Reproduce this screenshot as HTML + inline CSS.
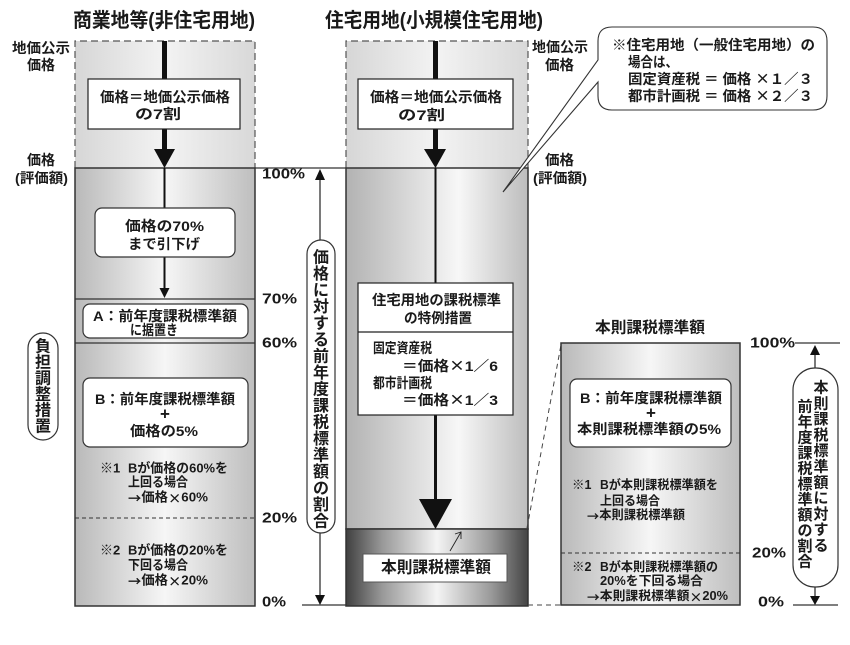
<!DOCTYPE html>
<html><head><meta charset="utf-8"><style>
html,body{margin:0;padding:0;background:#fff;}
svg{display:block;}
text{font-family:"Liberation Sans","Noto Sans CJK JP",sans-serif;font-weight:bold;fill:#1a1a1a;dominant-baseline:central;}
.p{font-family:"Liberation Sans",sans-serif;}
.j{font-family:"Noto Sans CJK JP",sans-serif;}
</style></head><body>
<svg width="850" height="645" viewBox="0 0 850 645" xmlns="http://www.w3.org/2000/svg">
<defs>
<linearGradient id="gTop" x1="0" x2="1" y1="0" y2="0"><stop offset="0" stop-color="#d6d6d6"/><stop offset=".5" stop-color="#f3f3f3"/><stop offset="1" stop-color="#d8d8d8"/></linearGradient>
<linearGradient id="gL" x1="0" x2="1" y1="0" y2="0"><stop offset="0" stop-color="#b9b9b9"/><stop offset=".5" stop-color="#f6f6f6"/><stop offset="1" stop-color="#bebebe"/></linearGradient>
<linearGradient id="gM" x1="0" x2="1" y1="0" y2="0"><stop offset="0" stop-color="#b2b2b2"/><stop offset=".62" stop-color="#f7f7f7"/><stop offset="1" stop-color="#bdbdbd"/></linearGradient>
<linearGradient id="gD" x1="0" x2="1" y1="0" y2="0"><stop offset="0" stop-color="#404040"/><stop offset=".2" stop-color="#999"/><stop offset=".5" stop-color="#f4f4f4"/><stop offset=".8" stop-color="#999"/><stop offset="1" stop-color="#444"/></linearGradient>
</defs>

<!-- Titles -->
<text x="73" y="21" font-size="20" textLength="182" lengthAdjust="spacingAndGlyphs">商業地等(非住宅用地)</text>
<text x="325" y="21" font-size="20" textLength="218" lengthAdjust="spacingAndGlyphs">住宅用地(小規模住宅用地)</text>

<!-- Left labels -->
<text x="12" y="48" font-size="14" textLength="58" lengthAdjust="spacingAndGlyphs">地価公示</text>
<text x="27" y="65" font-size="14" textLength="28" lengthAdjust="spacingAndGlyphs">価格</text>
<text x="27" y="160" font-size="14" textLength="28" lengthAdjust="spacingAndGlyphs">価格</text>
<text x="15" y="178" font-size="14" textLength="53" lengthAdjust="spacingAndGlyphs">(評価額)</text>

<!-- LEFT COLUMN -->
<rect x="75" y="41" width="180" height="127" fill="url(#gTop)"/>
<path d="M75,168 V41 H255 V168" fill="none" stroke="#555" stroke-width="1.2" stroke-dasharray="7 4"/>
<rect x="75" y="168" width="180" height="438" fill="url(#gL)" stroke="#333" stroke-width="1.5"/>
<line x1="75" y1="299" x2="255" y2="299" stroke="#333" stroke-width="1.2"/>
<line x1="75" y1="343" x2="255" y2="343" stroke="#333" stroke-width="1.2"/>
<line x1="75" y1="518" x2="255" y2="518" stroke="#333" stroke-width="1" stroke-dasharray="4 3"/>
<rect x="162" y="41" width="5" height="40" fill="#111"/>
<rect x="162" y="128" width="5" height="23" fill="#111"/>
<polygon points="154,149 175,149 164.5,168" fill="#111"/>
<line x1="164.5" y1="168" x2="164.5" y2="208" stroke="#111" stroke-width="2"/>
<line x1="164.5" y1="257" x2="164.5" y2="290" stroke="#111" stroke-width="2"/>
<polygon points="159.5,288 169.5,288 164.5,298" fill="#111"/>
<rect x="88" y="79" width="152" height="50" fill="#fff" stroke="#222" stroke-width="1.2"/>
<text x="100" y="97" font-size="14" textLength="130" lengthAdjust="spacingAndGlyphs">価格＝地価公示価格</text>
<text x="135" y="114" font-size="14" textLength="46" lengthAdjust="spacingAndGlyphs">の7割</text>
<rect x="95" y="208" width="140" height="49" rx="7" fill="#fff" stroke="#333" stroke-width="1.2"/>
<text x="125" y="226" font-size="14" textLength="79" lengthAdjust="spacingAndGlyphs">価格の70%</text>
<text x="128" y="244" font-size="14" textLength="72" lengthAdjust="spacingAndGlyphs">まで引下げ</text>
<rect x="83" y="304" width="165" height="34" rx="7" fill="#fff" stroke="#333" stroke-width="1.2"/>
<text x="93" y="316" font-size="14" textLength="144" lengthAdjust="spacingAndGlyphs">A：前年度課税標準額</text>
<text x="130" y="330" font-size="14" textLength="48" lengthAdjust="spacingAndGlyphs">に据置き</text>
<rect x="83" y="378" width="165" height="69" rx="7" fill="#fff" stroke="#333" stroke-width="1.2"/>
<text x="95" y="399" font-size="14" textLength="140" lengthAdjust="spacingAndGlyphs">B：前年度課税標準額</text>
<text x="165" y="414" font-size="17" text-anchor="middle">+</text>
<text x="130" y="431" font-size="14" textLength="68" lengthAdjust="spacingAndGlyphs">価格の5%</text>
<text x="100" y="468" font-size="13">※1</text>
<text x="128" y="468" font-size="13" textLength="100" lengthAdjust="spacingAndGlyphs">Bが価格の60%を</text>
<text x="128" y="482" font-size="13" textLength="60" lengthAdjust="spacingAndGlyphs">上回る場合</text>
<text x="128" y="497" font-size="13" textLength="80" lengthAdjust="spacingAndGlyphs"><tspan class="j">→</tspan>価格<tspan class="j">×</tspan>60%</text>
<text x="100" y="550" font-size="13">※2</text>
<text x="128" y="550" font-size="13" textLength="100" lengthAdjust="spacingAndGlyphs">Bが価格の20%を</text>
<text x="128" y="565" font-size="13" textLength="60" lengthAdjust="spacingAndGlyphs">下回る場合</text>
<text x="128" y="580" font-size="13" textLength="80" lengthAdjust="spacingAndGlyphs"><tspan class="j">→</tspan>価格<tspan class="j">×</tspan>20%</text>

<rect x="28" y="333" width="30" height="107" rx="15" fill="#fff" stroke="#333" stroke-width="1.2"/>
<g font-size="16" text-anchor="middle">
<text x="43" y="347">負</text><text x="43" y="363">担</text><text x="43" y="379">調</text><text x="43" y="395">整</text><text x="43" y="411">措</text><text x="43" y="427">置</text>
</g>

<line x1="255" y1="168" x2="346" y2="168" stroke="#333" stroke-width="1.2"/>
<line x1="302" y1="605" x2="346" y2="605" stroke="#333" stroke-width="1.2"/>
<text class="p" x="262" y="174" font-size="15" textLength="43" lengthAdjust="spacingAndGlyphs">100%</text>
<text class="p" x="262" y="299" font-size="15" textLength="35" lengthAdjust="spacingAndGlyphs">70%</text>
<text class="p" x="262" y="343" font-size="15" textLength="35" lengthAdjust="spacingAndGlyphs">60%</text>
<text class="p" x="262" y="518" font-size="15" textLength="35" lengthAdjust="spacingAndGlyphs">20%</text>
<text class="p" x="262" y="602" font-size="15" textLength="24" lengthAdjust="spacingAndGlyphs">0%</text>

<line x1="320" y1="172" x2="320" y2="600" stroke="#222" stroke-width="1.2"/>
<polygon points="315,180 325,180 320,169" fill="#111"/>
<polygon points="315,595 325,595 320,605" fill="#111"/>
<rect x="307" y="240" width="28" height="293" rx="14" fill="#fff" stroke="#333" stroke-width="1.2"/>
<g font-size="16" text-anchor="middle">
<text x="321" y="258">価</text><text x="321" y="274.5">格</text><text x="321" y="291">に</text><text x="321" y="307.5">対</text><text x="321" y="324">す</text><text x="321" y="340.5">る</text><text x="321" y="357">前</text><text x="321" y="373.5">年</text><text x="321" y="390">度</text><text x="321" y="406.5">課</text><text x="321" y="423">税</text><text x="321" y="439.5">標</text><text x="321" y="456">準</text><text x="321" y="472.5">額</text><text x="321" y="489">の</text><text x="321" y="505.5">割</text><text x="321" y="522">合</text>
</g>

<!-- MIDDLE COLUMN -->
<rect x="346" y="41" width="182" height="127" fill="url(#gTop)"/>
<path d="M346,168 V41 H528 V168" fill="none" stroke="#555" stroke-width="1.2" stroke-dasharray="7 4"/>
<rect x="346" y="168" width="182" height="361" fill="url(#gM)" stroke="#333" stroke-width="1.5"/>
<rect x="346" y="529" width="182" height="77" fill="url(#gD)" stroke="#333" stroke-width="1.5"/>
<rect x="433" y="41" width="5" height="40" fill="#111"/>
<rect x="433" y="128" width="5" height="23" fill="#111"/>
<polygon points="424,149 446,149 435.5,168" fill="#111"/>
<line x1="435.5" y1="168" x2="435.5" y2="283" stroke="#111" stroke-width="2"/>
<line x1="435.5" y1="415" x2="435.5" y2="500" stroke="#111" stroke-width="3"/>
<polygon points="419,499 452,499 435.5,529" fill="#111"/>
<rect x="358" y="79" width="155" height="50" fill="#fff" stroke="#222" stroke-width="1.2"/>
<text x="370" y="97" font-size="14" textLength="132" lengthAdjust="spacingAndGlyphs">価格＝地価公示価格</text>
<text x="398" y="115" font-size="14" textLength="47" lengthAdjust="spacingAndGlyphs">の7割</text>
<rect x="358" y="283" width="155" height="132" fill="#fff" stroke="#222" stroke-width="1.2"/>
<line x1="358" y1="332" x2="513" y2="332" stroke="#222" stroke-width="1.2"/>
<text x="372" y="300" font-size="14" textLength="129" lengthAdjust="spacingAndGlyphs">住宅用地の課税標準</text>
<text x="404" y="318" font-size="14" textLength="68" lengthAdjust="spacingAndGlyphs">の特例措置</text>
<text x="373" y="348" font-size="14" textLength="59" lengthAdjust="spacingAndGlyphs">固定資産税</text>
<text x="402" y="366" font-size="14" textLength="96" lengthAdjust="spacingAndGlyphs">＝価格<tspan class="j">×</tspan>1／6</text>
<text x="373" y="383" font-size="14" textLength="59" lengthAdjust="spacingAndGlyphs">都市計画税</text>
<text x="402" y="400" font-size="14" textLength="96" lengthAdjust="spacingAndGlyphs">＝価格<tspan class="j">×</tspan>1／3</text>
<rect x="363" y="554" width="144" height="28" fill="#fff" stroke="#555" stroke-width="1"/>
<text x="381" y="568" font-size="16" textLength="110" lengthAdjust="spacingAndGlyphs">本則課税標準額</text>
<line x1="450" y1="551" x2="461" y2="532" stroke="#222" stroke-width="0.9"/>
<polyline points="455,534 461,532 461,539" fill="none" stroke="#222" stroke-width="0.9"/>

<text x="532" y="47" font-size="14" textLength="56" lengthAdjust="spacingAndGlyphs">地価公示</text>
<text x="545" y="65" font-size="14" textLength="29" lengthAdjust="spacingAndGlyphs">価格</text>
<text x="545" y="160" font-size="14" textLength="29" lengthAdjust="spacingAndGlyphs">価格</text>
<text x="533" y="178" font-size="14" textLength="54" lengthAdjust="spacingAndGlyphs">(評価額)</text>

<path d="M612,27 H813 Q827,27 827,41 V96 Q827,110 813,110 H612 Q598,110 598,96 V82 L503,192 L598,60 V41 Q598,27 612,27 Z" fill="#fff" stroke="#333" stroke-width="1.1"/>
<text x="612" y="45" font-size="14" textLength="203" lengthAdjust="spacingAndGlyphs">※住宅用地（一般住宅用地）の</text>
<text x="628" y="62" font-size="14" textLength="50" lengthAdjust="spacingAndGlyphs">場合は、</text>
<text x="628" y="79" font-size="14" textLength="185" lengthAdjust="spacingAndGlyphs">固定資産税 ＝ 価格 <tspan class="j">×</tspan>１／３</text>
<text x="628" y="96" font-size="14" textLength="185" lengthAdjust="spacingAndGlyphs">都市計画税 ＝ 価格 <tspan class="j">×</tspan>２／３</text>

<line x1="527" y1="528" x2="561" y2="345" stroke="#444" stroke-width="1" stroke-dasharray="5 4"/>
<line x1="528" y1="605" x2="561" y2="605" stroke="#444" stroke-width="1" stroke-dasharray="5 4"/>

<!-- RIGHT COLUMN -->
<text x="595" y="328" font-size="15.5" textLength="110" lengthAdjust="spacingAndGlyphs">本則課税標準額</text>
<rect x="561" y="343" width="179" height="262" fill="url(#gL)" stroke="#333" stroke-width="1.5"/>
<line x1="561" y1="553" x2="740" y2="553" stroke="#333" stroke-width="1" stroke-dasharray="4 3"/>
<rect x="570" y="379" width="161" height="68" rx="7" fill="#fff" stroke="#333" stroke-width="1.2"/>
<text x="580" y="398" font-size="14" textLength="142" lengthAdjust="spacingAndGlyphs">B：前年度課税標準額</text>
<text x="651" y="413" font-size="17" text-anchor="middle">+</text>
<text x="577" y="429" font-size="14" textLength="144" lengthAdjust="spacingAndGlyphs">本則課税標準額の5%</text>
<text x="572" y="485" font-size="12.5">※1</text>
<text x="600" y="485" font-size="12.5" textLength="118" lengthAdjust="spacingAndGlyphs">Bが本則課税標準額を</text>
<text x="600" y="501" font-size="12.5" textLength="60" lengthAdjust="spacingAndGlyphs">上回る場合</text>
<text x="587" y="515" font-size="12.5" textLength="98" lengthAdjust="spacingAndGlyphs"><tspan class="j">→</tspan>本則課税標準額</text>
<text x="572" y="567" font-size="12.5">※2</text>
<text x="600" y="567" font-size="12.5" textLength="118" lengthAdjust="spacingAndGlyphs">Bが本則課税標準額の</text>
<text x="600" y="581" font-size="12.5" textLength="103" lengthAdjust="spacingAndGlyphs">20%を下回る場合</text>
<text x="587" y="596" font-size="12.5" textLength="141" lengthAdjust="spacingAndGlyphs"><tspan class="j">→</tspan>本則課税標準額<tspan class="j">×</tspan>20%</text>

<text class="p" x="750" y="343" font-size="15" textLength="45" lengthAdjust="spacingAndGlyphs">100%</text>
<text class="p" x="752" y="553" font-size="15" textLength="34" lengthAdjust="spacingAndGlyphs">20%</text>
<text class="p" x="758" y="602" font-size="15" textLength="26" lengthAdjust="spacingAndGlyphs">0%</text>
<line x1="795" y1="343" x2="840" y2="343" stroke="#333" stroke-width="1.2"/>
<line x1="793" y1="605" x2="838" y2="605" stroke="#333" stroke-width="1.2"/>
<line x1="815" y1="350" x2="815" y2="368" stroke="#222" stroke-width="1.2"/>
<polygon points="810,355 820,355 815,345" fill="#111"/>
<line x1="815" y1="587" x2="815" y2="598" stroke="#222" stroke-width="1.2"/>
<polygon points="810,596 820,596 815,605" fill="#111"/>
<rect x="793" y="368" width="45" height="219" rx="22" fill="#fff" stroke="#333" stroke-width="1.2"/>
<g font-size="15" text-anchor="middle">
<text x="821" y="388">本</text><text x="821" y="403.8">則</text><text x="821" y="419.6">課</text><text x="821" y="435.4">税</text><text x="821" y="451.2">標</text><text x="821" y="467">準</text><text x="821" y="482.8">額</text><text x="821" y="498.6">に</text><text x="821" y="514.4">対</text><text x="821" y="530.2">す</text><text x="821" y="546">る</text>
<text x="805" y="407">前</text><text x="805" y="422.5">年</text><text x="805" y="438">度</text><text x="805" y="453.5">課</text><text x="805" y="469">税</text><text x="805" y="484.5">標</text><text x="805" y="500">準</text><text x="805" y="515.5">額</text><text x="805" y="531">の</text><text x="805" y="546.5">割</text><text x="805" y="562">合</text>
</g>
</svg>
</body></html>
